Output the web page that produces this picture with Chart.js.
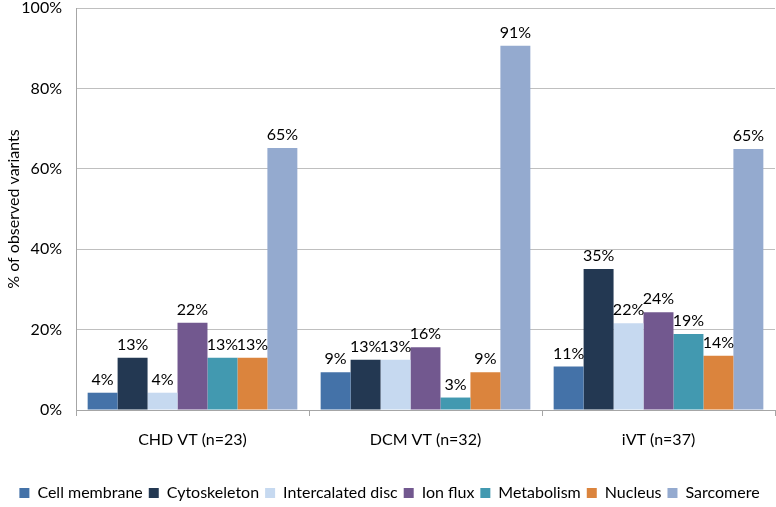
<!DOCTYPE html>
<html>
<head>
<meta charset="utf-8">
<script src="https://cdn.jsdelivr.net/npm/chart.js@4/dist/chart.umd.min.js"></script>
<style>
  html, body { margin: 0; padding: 0; background: #fff; }
  #wrap { width: 776px; height: 507px; }
</style>
</head>
<body>
<div id="wrap"><canvas id="chart"></canvas></div>
<script>
const groups = ['CHD VT (n=23)', 'DCM VT (n=32)', 'iVT (n=37)'];
const seriesNames = ['Cell membrane', 'Cytoskeleton', 'Intercalated disc', 'Ion flux', 'Metabolism', 'Nucleus', 'Sarcomere'];
const cellMembrane = [4.3, 9.4, 10.8];
const cytoskeleton = [13.0, 12.5, 35.1];
const intercalatedDisc = [4.3, 12.5, 21.6];
const ionFlux = [21.7, 15.6, 24.3];
const metabolism = [13.0, 3.1, 18.9];
const nucleus = [13.0, 9.4, 13.5];
const sarcomere = [65.2, 90.6, 64.9];
const yTicks = [0, 20, 40, 60, 80, 100];

const colors = ['#4472A8', '#233852', '#C6D9F0', '#72588F', '#4299B0', '#DB843D', '#94AACF'];
const FONT = 'Lato, "Open Sans", sans-serif';

const seriesValues = [cellMembrane, cytoskeleton, intercalatedDisc, ionFlux, metabolism, nucleus, sarcomere];

// value labels above each bar
const barLabels = {
    id: 'barLabels',
    afterDatasetsDraw(chart) {
        const ctx = chart.ctx;
        ctx.save();
        ctx.font = '16px ' + FONT;
        ctx.fillStyle = '#000';
        ctx.textAlign = 'center';
        ctx.textBaseline = 'bottom';
        chart.data.datasets.forEach((ds, i) => {
            chart.getDatasetMeta(i).data.forEach((bar, j) => {
                ctx.fillText(Math.round(ds.data[j]) + '%', bar.x, bar.y - 5);
            });
        });
        ctx.restore();
    }
};

new Chart(document.getElementById('chart'), {
    type: 'bar',
    data: {
        labels: groups,
        datasets: seriesNames.map((name, i) => ({
            label: name,
            data: seriesValues[i],
            backgroundColor: colors[i],
            borderWidth: 0,
            categoryPercentage: 0.9,
            barPercentage: 1.0
        }))
    },
    options: {
        responsive: true,
        maintainAspectRatio: false,
        animation: false,
        layout: { padding: { top: 0, right: 1, bottom: -4, left: 4 } },
        plugins: {
            legend: {
                position: 'bottom',
                labels: {
                    font: { family: FONT, size: 16 },
                    color: '#000',
                    boxWidth: 10,
                    boxHeight: 10,
                    padding: 6
                }
            },
            tooltip: { enabled: false }
        },
        scales: {
            x: {
                afterFit: s => { s.height = 69; },
                grid: { offset: true, drawOnChartArea: false, color: '#A6A6A6', tickLength: 6 },
                border: { color: '#A6A6A6' },
                ticks: { font: { family: FONT, size: 16 }, color: '#000', padding: 14 }
            },
            y: {
                min: 0,
                max: 100,
                afterBuildTicks: s => { s.ticks = yTicks.map(v => ({ value: v })); },
                afterFit: s => { s.width = 72; s.paddingTop = 8; s.paddingBottom = 0; },
                grid: { color: '#BFBFBF', tickLength: 0 },
                border: { color: '#A6A6A6' },
                ticks: { font: { family: FONT, size: 16 }, color: '#000', padding: 14, callback: v => v + '%' },
                title: { display: true, text: '% of observed variants', font: { family: FONT, size: 16 }, color: '#000', padding: 0 }
            }
        }
    },
    plugins: [barLabels]
});
</script>
</body>
</html>
